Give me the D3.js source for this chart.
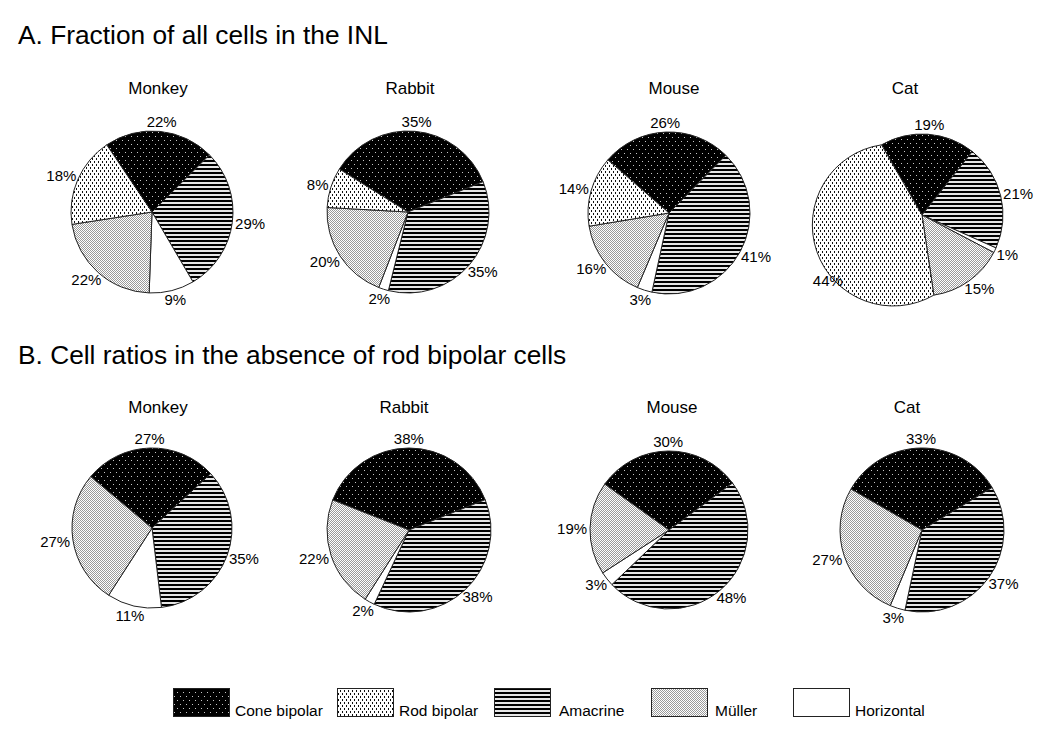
<!DOCTYPE html>
<html>
<head>
<meta charset="utf-8">
<script src="https://cdn.jsdelivr.net/npm/d3@7"></script>
<style>
  html, body { margin: 0; padding: 0; background: #fff; }
  svg { display: block; font-family: "Liberation Sans", Arial, sans-serif; }
</style>
</head>
<body>
<svg id="chart" width="1050" height="729"></svg>
<script>
// ---------------- data ----------------
const categories = ["Cone bipolar", "Rod bipolar", "Amacrine", "Müller", "Horizontal"];
const species = ["Monkey", "Rabbit", "Mouse", "Cat"];
const panelTitles = ["A. Fraction of all cells in the INL", "B. Cell ratios in the absence of rod bipolar cells"];

// values (%) in category order: Cone bipolar, Rod bipolar, Amacrine, Müller, Horizontal
const monkeyA = [22, 18, 29, 22, 9];
const rabbitA = [35, 8, 35, 20, 2];
const mouseA  = [26, 14, 41, 16, 3];
const catA    = [19, 44, 21, 15, 1];

const monkeyB = [27, 0, 35, 27, 11];
const rabbitB = [38, 0, 38, 22, 2];
const mouseB  = [30, 0, 48, 19, 3];
const catB    = [33, 0, 37, 27, 3];

// ---------------- layout / style ----------------
const panelData = [[monkeyA, rabbitA, mouseA, catA], [monkeyB, rabbitB, mouseB, catB]];
const sliceOrder = ["Cone bipolar", "Amacrine", "Horizontal", "Müller", "Rod bipolar"]; // clockwise
const startDeg = [[-34, -58, -49, -30], [-50, -68.5, -54.5, -60]];
const centers = [
  [[152, 212], [408, 212], [669, 213], [922, 215]],
  [[152, 528], [409, 530], [669, 530], [922, 530]]
];
const radii = [[81, 81, 81, 81], [80, 82, 79, 82]];
const titleX = [[158, 410, 674, 905], [158, 404, 672, 907]];
const titleY = [94, 413];
const panelTitleY = [44, 364];
// the original figure draws Cat / rod bipolar (panel A) with the long arc
const longArcQuirk = [{ panel: 0, sp: 3, cat: "Rod bipolar", labelDeg: 233, labelR: 100 }];

const svg = d3.select("#chart");
svg.append("rect").attr("width", 1050).attr("height", 729).attr("fill", "#fff");

// ---------------- patterns ----------------
const defs = svg.append("defs");
function pat(id, w, h, bg, rects) {
  const p = defs.append("pattern").attr("id", id).attr("patternUnits", "userSpaceOnUse")
    .attr("width", w).attr("height", h);
  p.append("rect").attr("width", w).attr("height", h).attr("fill", bg).attr("shape-rendering", "crispEdges");
  rects.forEach(r => p.append("rect").attr("x", r[0]).attr("y", r[1]).attr("width", r[2]).attr("height", r[3])
    .attr("fill", r[4]).attr("shape-rendering", "crispEdges"));
}
pat("p-cone", 6, 8, "#000", [[0, 0, 1, 1, "#c8c8c8"], [3, 4, 1, 1, "#c8c8c8"]]);
pat("p-rod", 4, 6, "#fff", [[0, 0, 1, 2, "#111"], [2, 3, 1, 2, "#111"]]);
pat("p-ama", 4, 4, "#e6e6e6", [[0, 0, 4, 2, "#000"]]);
pat("p-mul", 2, 2, "#fff", [[0, 0, 1, 1, "#9a9a9a"], [1, 1, 1, 1, "#9a9a9a"]]);

const fillScale = d3.scaleOrdinal()
  .domain(categories)
  .range(["url(#p-cone)", "url(#p-rod)", "url(#p-ama)", "url(#p-mul)", "#fff"]);

// ---------------- titles ----------------
panelTitles.forEach((t, i) => {
  svg.append("text").attr("x", 18).attr("y", panelTitleY[i]).attr("font-size", 26.3)
    .attr("fill", "#000").text(t);
});

// ---------------- pies ----------------
const toRad = d => d * Math.PI / 180;

panelData.forEach((row, pi) => {
  row.forEach((vals, si) => {
    const [cx, cy] = centers[pi][si];
    const r = radii[pi][si];
    const g = svg.append("g").attr("transform", `translate(${cx},${cy})`);

    svg.append("text").attr("x", titleX[pi][si]).attr("y", titleY[pi])
      .attr("text-anchor", "middle").attr("font-size", 17).text(species[si]);

    const items = sliceOrder.map(c => ({ cat: c, value: vals[categories.indexOf(c)] }))
      .filter(d => d.value > 0);
    const s0 = toRad(startDeg[pi][si]);
    const pie = d3.pie().sort(null).value(d => d.value).startAngle(s0).endAngle(s0 + 2 * Math.PI);
    const arcs = pie(items);
    const arcGen = d3.arc().innerRadius(0).outerRadius(r);
    const quirkOf = d => longArcQuirk.find(q => q.panel === pi && q.sp === si && q.cat === d.data.cat);

    g.selectAll("path").data(arcs).join("path")
      .attr("d", d => {
        if (!quirkOf(d)) return arcGen(d);
        const p = d3.path();
        const x0 = r * Math.sin(d.startAngle), y0 = -r * Math.cos(d.startAngle);
        const x1 = r * Math.sin(d.endAngle), y1 = -r * Math.cos(d.endAngle);
        p.moveTo(0, 0);
        p.lineTo(x0, y0);
        return p.toString() + `A${r},${r},0,1,1,${x1},${y1}Z`;
      })
      .attr("fill", d => fillScale(d.data.cat))
      .attr("stroke", "#222").attr("stroke-width", 1).attr("stroke-linejoin", "round");

    // labels
    arcs.forEach(d => {
      const q = quirkOf(d);
      const a = q ? toRad(q.labelDeg) : (d.startAngle + d.endAngle) / 2;
      const rr = q ? q.labelR : r;
      const ux = Math.sin(a), uy = -Math.cos(a);
      const txt = d.data.value + "%";
      const w = txt.length * 8.3 + 3, h = 11;
      const lx = (rr + 4) * ux + ux * w / 2;
      const ly = (rr + 4) * uy + uy * h / 2;
      g.append("text").attr("x", lx).attr("y", ly + 5.5)
        .attr("text-anchor", "middle").attr("font-size", 15).text(txt);
    });
  });
});

// ---------------- legend ----------------
const legendBoxX = [173, 337, 494, 651, 793];
const legendTextX = [235, 399, 559, 715, 855];
const legend = svg.append("g");
categories.forEach((c, i) => {
  legend.append("rect").attr("x", legendBoxX[i] + 0.5).attr("y", 688.5).attr("width", 56).attr("height", 28)
    .attr("fill", fillScale(c)).attr("stroke", "#222").attr("stroke-width", 1);
  legend.append("text").attr("x", legendTextX[i]).attr("y", 716).attr("font-size", 15.5).text(c);
});
</script>
</body>
</html>
